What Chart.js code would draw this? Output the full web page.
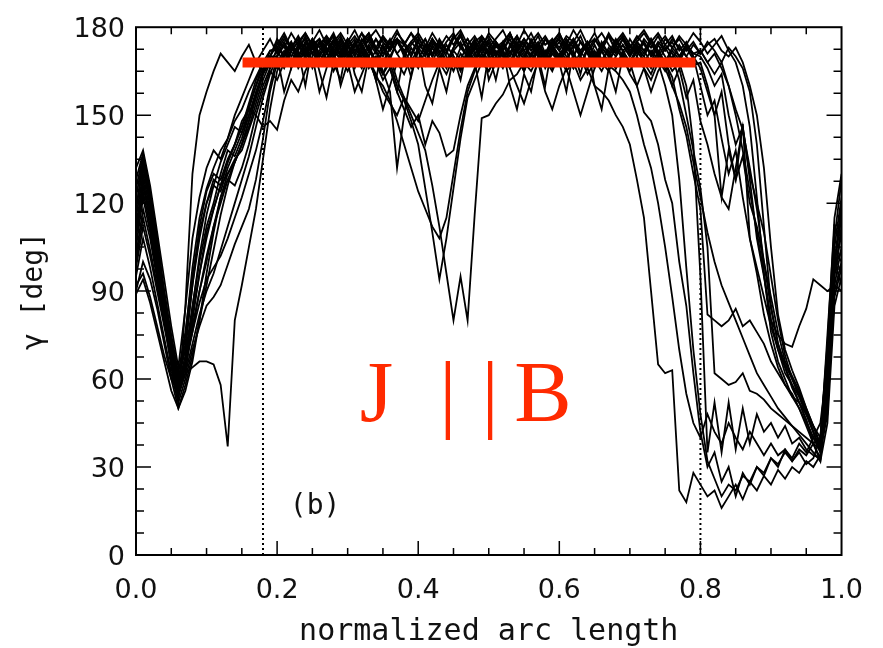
<!DOCTYPE html>
<html>
<head>
<meta charset="utf-8">
<script src="https://cdn.jsdelivr.net/npm/chart.js@4.4.1/dist/chart.umd.min.js"></script>
<style>
  html, body { margin: 0; padding: 0; background: #fff; }
  #wrap { width: 883px; height: 648px; }
</style>
</head>
<body>
<div id="wrap"><canvas id="chart" width="883" height="648"></canvas></div>
<script>
// normalized arc length grid shared by every field line
const arcLength = [
  0.00, 0.01, 0.02, 0.03, 0.04, 0.05, 0.06, 0.07, 0.08, 0.09,
  0.10, 0.11, 0.12, 0.13, 0.14, 0.15, 0.16, 0.17, 0.18, 0.19,
  0.20, 0.21, 0.22, 0.23, 0.24, 0.25, 0.26, 0.27, 0.28, 0.29,
  0.30, 0.31, 0.32, 0.33, 0.34, 0.35, 0.36, 0.37, 0.38, 0.39,
  0.40, 0.41, 0.42, 0.43, 0.44, 0.45, 0.46, 0.47, 0.48, 0.49,
  0.50, 0.51, 0.52, 0.53, 0.54, 0.55, 0.56, 0.57, 0.58, 0.59,
  0.60, 0.61, 0.62, 0.63, 0.64, 0.65, 0.66, 0.67, 0.68, 0.69,
  0.70, 0.71, 0.72, 0.73, 0.74, 0.75, 0.76, 0.77, 0.78, 0.79,
  0.80, 0.81, 0.82, 0.83, 0.84, 0.85, 0.86, 0.87, 0.88, 0.89,
  0.90, 0.91, 0.92, 0.93, 0.94, 0.95, 0.96, 0.97, 0.98, 0.99,
  1.00
]

// gamma [deg] along each line
const gamma01 = [
  118,134,120,102,86,70,58,75,98,115,
  125,132,138,142,148,152,158,163,168,172,
  173,177,172,175,178,174,176,171,175,178,
  174,177,173,176,179,175,172,176,174,178,
  175,171,176,173,177,174,178,172,175,177,
  173,176,179,174,177,172,175,178,174,176,
  173,177,175,179,174,176,172,177,175,178,
  174,171,176,173,177,172,175,170,174,171,
  172,168,164,168,160,152,145,132,118,100,
  84,72,64,57,52,46,38,33,62,105,
  122
]
const gamma02 = [
  128,137,124,108,90,74,60,70,92,112,
  124,130,128,135,140,146,153,160,166,170,
  176,173,178,174,171,176,173,177,174,170,
  176,173,178,175,171,177,174,176,172,175,
  178,174,170,175,172,177,173,176,171,174,
  177,173,175,171,176,174,178,173,170,175,
  172,176,173,177,171,175,178,174,171,176,
  173,177,174,171,175,172,176,173,170,174,
  171,175,172,168,173,170,166,158,140,112,
  85,72,65,60,55,49,42,36,55,98,
  118
]
const gamma03 = [
  105,122,110,96,82,68,56,66,82,96,
  108,118,126,130,134,140,148,156,164,170,
  170,174,168,173,176,171,175,169,174,177,
  172,168,174,170,176,173,169,175,171,166,
  172,168,174,170,166,172,175,169,173,176,
  171,175,172,168,174,170,176,172,169,174,
  170,175,171,167,173,169,174,171,176,172,
  168,173,170,175,171,167,172,169,174,170,
  160,150,155,142,130,138,122,108,98,88,
  78,70,64,58,52,46,40,35,48,92,
  105
]
const gamma04 = [
  112,128,115,100,84,68,55,64,78,90,
  100,112,122,128,126,132,140,150,158,165,
  162,168,172,166,170,174,168,172,165,170,
  174,168,172,166,170,164,168,160,155,148,
  140,125,110,94,108,125,142,156,162,168,
  165,170,166,172,168,174,169,172,166,171,
  168,172,166,170,164,168,172,167,165,162,
  158,150,140,132,120,105,88,70,55,45,
  40,48,42,38,45,40,36,42,38,34,
  38,34,36,32,35,31,33,40,70,102,
  96
]
const gamma05 = [
  95,108,98,86,74,62,52,60,70,78,
  85,88,92,99,106,112,118,128,142,158,
  168,172,166,174,170,175,168,173,170,176,
  171,175,169,173,168,164,170,162,156,150,
  144,138,126,112,96,80,95,80,116,149,
  150,154,157,162,164,168,165,170,167,172,
  169,174,170,175,171,168,173,170,175,172,
  168,173,170,166,172,168,163,152,143,130,
  118,82,80,78,80,84,78,80,76,72,
  66,62,58,55,50,45,40,38,75,112,
  108
]
const gamma06 = [
  92,96,88,78,68,60,56,62,64,66,
  66,65,58,37,80,92,105,118,135,152,
  165,170,174,168,172,176,170,174,178,172,
  176,171,175,178,173,177,172,176,170,174,
  177,172,176,171,175,178,173,176,172,177,
  174,170,175,178,172,176,173,177,171,175,
  178,173,176,172,175,170,174,177,172,176,
  171,175,172,168,174,170,165,168,160,140,
  95,35,52,35,52,36,50,38,48,42,
  45,40,44,38,40,36,34,33,58,95,
  110
]
const gamma07 = [
  125,136,122,106,90,75,62,76,95,110,
  120,126,124,132,138,144,150,157,164,168,
  167,171,175,169,173,166,171,175,170,168,
  173,176,170,174,168,172,176,171,167,173,
  169,174,170,176,172,167,173,170,175,169,
  173,168,172,176,170,165,171,174,168,172,
  175,170,166,172,168,174,169,172,166,170,
  164,160,151,148,140,128,120,100,85,62,
  42,30,35,25,30,20,28,24,30,27,
  33,30,36,33,38,35,40,45,65,100,
  92
]
const gamma08 = [
  132,138,126,110,94,78,64,84,108,122,
  132,138,135,142,150,156,162,168,165,170,
  175,170,173,177,172,175,170,174,177,173,
  169,174,171,176,172,168,173,176,171,175,
  172,176,170,174,168,173,177,172,169,174,
  171,175,170,173,177,172,168,174,171,176,
  172,169,174,170,175,171,168,173,170,174,
  170,174,168,172,169,165,170,162,150,138,
  125,105,62,60,58,59,62,56,55,53,
  50,48,46,44,42,40,38,36,62,98,
  104
]
const gamma09 = [
  100,115,104,92,80,68,58,66,76,86,
  94,98,102,108,115,122,130,138,148,160,
  170,158,166,172,160,174,165,156,168,162,
  175,164,158,170,162,174,166,158,171,163,
  173,160,154,166,158,170,162,174,168,156,
  171,162,173,160,152,164,158,170,160,174,
  168,158,172,164,174,160,152,166,158,170,
  168,160,166,158,165,169,160,166,156,162,
  148,140,130,122,118,132,146,128,108,95,
  80,75,72,71,78,84,94,92,90,92,
  90
]
const gamma10 = [
  110,126,114,98,82,66,54,62,80,96,
  110,118,126,134,140,148,152,150,146,148,
  145,155,162,158,165,170,158,166,172,160,
  168,158,164,170,162,152,160,168,164,170,
  166,172,168,174,170,165,171,168,174,169,
  165,170,175,168,172,166,171,174,169,165,
  171,168,174,170,166,172,168,165,170,174,
  170,174,171,176,172,168,173,170,174,171,
  170,166,160,164,150,140,146,130,120,110,
  95,80,68,60,54,48,42,36,65,108,
  128
]
const gamma11 = [
  90,100,94,84,72,60,50,56,66,80,
  96,110,122,130,135,138,145,152,160,166,
  170,166,172,175,169,173,167,171,176,170,
  165,170,174,168,172,165,158,132,150,164,
  172,167,173,169,174,170,165,171,167,173,
  168,174,170,166,172,169,175,171,167,173,
  169,174,171,167,172,168,175,171,166,172,
  174,170,175,171,168,173,169,174,170,167,
  168,160,150,158,140,128,136,120,112,100,
  88,76,66,61,56,50,44,37,52,88,
  98
]
const gamma12 = [
  118,132,119,103,88,72,60,72,92,108,
  120,128,126,134,140,146,154,162,168,166,
  173,170,174,168,172,176,171,167,173,169,
  174,170,166,172,168,162,166,158,152,146,
  150,140,148,144,136,138,150,160,166,171,
  167,172,168,174,170,165,171,168,172,166,
  170,165,168,162,166,160,158,155,150,146,
  140,128,115,90,65,62,63,22,18,28,
  24,20,22,16,20,24,19,25,22,27,
  24,29,26,30,28,32,30,34,62,100,
  115
]
const gamma13 = [
  122,135,121,104,88,72,58,68,85,100,
  112,120,130,138,136,142,150,158,165,172,
  172,176,173,170,175,171,174,177,172,169,
  174,171,176,172,169,174,170,175,172,168,
  173,170,175,171,167,172,169,174,170,176,
  162,168,172,166,160,154,162,168,158,152,
  160,166,158,150,158,166,172,168,174,170,
  176,172,175,170,174,177,173,176,172,175,
  171,174,176,172,170,173,168,160,150,132,
  105,82,70,63,57,50,44,38,58,96,
  112
]
const gamma14 = [
  98,112,102,90,78,66,55,62,72,82,
  90,96,104,112,120,128,136,146,156,164,
  170,174,168,172,177,171,175,169,173,176,
  171,167,173,169,164,158,154,150,156,152,
  148,155,162,168,164,170,166,172,168,174,
  170,175,171,167,173,169,174,170,176,172,
  168,173,170,175,171,166,172,168,173,169,
  165,170,166,162,168,160,150,128,98,70,
  48,32,26,20,24,22,27,25,30,28,
  33,31,35,32,36,34,38,40,68,104,
  100
]
const gamma15 = [
  108,124,112,96,80,64,52,85,130,150,
  158,165,171,168,165,170,174,168,172,176,
  171,175,170,174,178,173,176,172,175,171,
  176,172,175,178,173,170,175,171,174,178,
  173,176,171,175,172,177,174,170,175,172,
  176,171,174,178,172,175,170,174,177,173,
  176,172,175,171,174,178,173,170,174,177,
  172,175,178,174,171,176,173,177,174,178,
  175,171,174,177,172,168,160,146,122,96,
  76,66,60,54,50,44,38,32,45,85,
  95
]
const gamma16 = [
  102,118,108,94,80,66,54,66,84,102,
  116,126,134,140,146,144,152,160,168,170,
  174,178,173,176,171,175,179,174,177,172,
  175,179,174,177,172,176,173,178,175,171,
  176,173,178,174,171,176,179,174,177,173,
  178,175,172,177,174,179,175,172,176,173,
  177,174,179,175,172,176,173,178,174,177,
  173,176,179,175,178,174,177,172,175,170,
  166,158,150,122,138,128,147,108,96,82,
  72,64,58,54,52,48,44,40,72,115,
  130
]
const gamma17 = [
  89,94,86,76,66,56,50,58,68,80,
  92,104,116,126,134,140,148,156,164,170,
  166,171,175,170,174,168,172,176,171,175,
  170,174,178,172,176,171,175,179,174,170,
  175,171,176,172,168,173,177,172,176,171,
  175,170,174,178,173,176,172,175,170,174,
  178,172,176,171,175,170,174,177,172,176,
  171,175,172,176,170,174,171,168,173,169,
  172,168,171,166,160,150,138,124,110,96,
  80,70,62,58,54,48,42,35,50,90,
  100
]
const gamma18 = [
  115,130,117,100,85,70,57,64,76,90,
  102,112,120,128,134,140,146,154,162,168,
  172,168,174,170,175,171,168,173,169,174,
  170,166,172,168,163,160,155,148,140,132,
  124,118,112,108,115,130,145,158,165,170,
  172,168,174,170,175,171,167,172,169,174,
  170,175,171,167,173,169,165,170,166,171,
  167,172,168,164,170,166,160,154,146,134,
  122,110,100,92,86,80,74,68,62,58,
  54,50,47,44,41,38,35,32,58,100,
  120
]

const fieldLines = [gamma01, gamma02, gamma03, gamma04, gamma05, gamma06,
  gamma07, gamma08, gamma09, gamma10, gamma11, gamma12, gamma13, gamma14,
  gamma15, gamma16, gamma17, gamma18]

// J || B level and its extent, and the two boundary markers
const parallelLevel = 168
const parallelFrom = 0.151
const parallelTo = 0.793
const boundaries = [0.18, 0.80]

const xTicks = [0, 0.2, 0.4, 0.6, 0.8, 1.0]
const yTicks = [0, 30, 60, 90, 120, 150, 180]

const RED = '#ff2a00'

const datasets = fieldLines.map(g => ({
  data: g.map((v, i) => ({ x: arcLength[i], y: v })),
  borderColor: '#000',
  borderWidth: 1.8,
  pointRadius: 0,
  tension: 0,
  fill: false
}))

boundaries.forEach(b => datasets.push({
  data: [{ x: b, y: 0 }, { x: b, y: 180 }],
  borderColor: '#000',
  borderWidth: 2,
  borderDash: [2, 3],
  pointRadius: 0,
  fill: false
}))

datasets.push({
  data: [{ x: parallelFrom, y: parallelLevel }, { x: parallelTo, y: parallelLevel }],
  borderColor: RED,
  borderWidth: 10,
  borderCapStyle: 'butt',
  pointRadius: 0,
  fill: false,
  order: -1
})

const boxPlugin = {
  id: 'box',
  afterDraw (chart) {
    const { ctx, chartArea: a, scales: { x, y } } = chart
    ctx.save()
    ctx.strokeStyle = '#000'

    // inward ticks on all four sides
    ctx.lineWidth = 1.5
    ctx.beginPath()
    for (let i = 1; i < 20; i++) {
      const len = i % 4 === 0 ? 14 : 7
      const px = x.getPixelForValue(i * 0.05)
      ctx.moveTo(px, a.bottom); ctx.lineTo(px, a.bottom - len)
      ctx.moveTo(px, a.top); ctx.lineTo(px, a.top + len)
    }
    for (let i = 1; i < 24; i++) {
      const len = i % 4 === 0 ? 15 : 8
      const py = y.getPixelForValue(i * 7.5)
      ctx.moveTo(a.left, py); ctx.lineTo(a.left + len, py)
      ctx.moveTo(a.right, py); ctx.lineTo(a.right - len, py)
    }
    ctx.stroke()

    ctx.lineWidth = 2
    ctx.strokeRect(a.left, a.top, a.right - a.left, a.bottom - a.top)

    // axis titles
    ctx.fillStyle = '#111'
    ctx.textBaseline = 'alphabetic'
    ctx.textAlign = 'center'
    ctx.font = '30px "DejaVu Sans Mono"'
    ctx.fillText('normalized arc length', (a.left + a.right) / 2, 640)
    ctx.save()
    ctx.translate(42, (a.top + a.bottom) / 2)
    ctx.rotate(-Math.PI / 2)
    ctx.font = '28px "DejaVu Sans Mono"'
    ctx.fillText('γ [deg]', 0, 0)
    ctx.restore()

    // panel label
    ctx.textAlign = 'left'
    ctx.font = '28px "DejaVu Sans Mono"'
    ctx.fillText('(b)', x.getPixelForValue(0.218), y.getPixelForValue(14))

    // J || B
    ctx.fillStyle = RED
    ctx.font = '86px "Liberation Serif"'
    const base = y.getPixelForValue(45.7)
    ctx.fillText('J', x.getPixelForValue(0.317), base)
    ctx.fillText('B', x.getPixelForValue(0.536), base)
    ctx.textAlign = 'center'
    ctx.fillText('|', x.getPixelForValue(0.442), base)
    ctx.fillText('|', x.getPixelForValue(0.502), base)
    ctx.restore()
  }
}

new Chart(document.getElementById('chart'), {
  type: 'line',
  data: { datasets },
  options: {
    responsive: false,
    animation: false,
    devicePixelRatio: 1,
    layout: { padding: { top: 13, right: 27, left: 0, bottom: 0 } },
    plugins: { legend: { display: false }, tooltip: { enabled: false } },
    scales: {
      x: {
        type: 'linear',
        min: 0,
        max: 1,
        afterBuildTicks: s => { s.ticks = xTicks.map(v => ({ value: v })) },
        afterFit: s => { s.height = 93 },
        grid: { display: false, drawTicks: false },
        border: { display: false },
        ticks: {
          callback: v => v.toFixed(1),
          font: { family: 'DejaVu Sans', size: 27 },
          color: '#111',
          padding: 20,
          maxRotation: 0,
          autoSkip: false
        }
      },
      y: {
        min: 0,
        max: 180,
        afterBuildTicks: s => { s.ticks = yTicks.map(v => ({ value: v })) },
        afterFit: s => { s.width = 136 },
        grid: { display: false, drawTicks: false },
        border: { display: false },
        ticks: {
          font: { family: 'DejaVu Sans', size: 27 },
          color: '#111',
          padding: 11,
          labelOffset: 3
        }
      }
    }
  },
  plugins: [boxPlugin]
})
</script>
</body>
</html>
